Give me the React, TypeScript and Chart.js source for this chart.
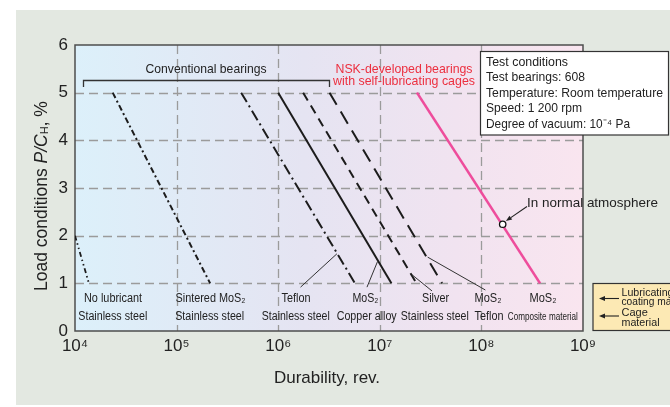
import React, { useEffect, useRef } from "react";
import { Chart, registerables } from "chart.js";

Chart.register(...registerables);

// ---- data ----
const loadTickValues = [0, 1, 2, 3, 4, 5, 6];
const durabilityTickExponents = [4, 5, 6, 7, 8, 9];
const durabilityTickLabels = ["10⁴", "10⁵", "10⁶", "10⁷", "10⁸", "10⁹"];

// durability (rev.) read at the start/end load of each test line
const noLubricantDurability = [1.0e4, 1.37e4];
const noLubricantLoad = [2, 1];
const sinteredMoS2Durability = [2.35e4, 2.14e5];
const teflonStainlessDurability = [4.32e5, 5.7e6];
const mos2CopperDurability = [1.0e6, 1.3e7];
const silverStainlessDurability = [1.76e6, 2.3e7];
const mos2TeflonDurability = [3.2e6, 4.1e7];
const nskCompositeDurability = [2.32e7, 3.78e8];
const standardLoad = [5, 1];
const normalAtmosphereDurability = [1.62e8];
const normalAtmosphereLoad = [2.24];

const FONT = '"Liberation Sans", Arial, Helvetica, sans-serif';
const INK = "#222222";
const RED = "#ec2f3f";

type Ctx = CanvasRenderingContext2D;

function fitText(ctx: Ctx, s: string, x: number, y: number, size: number, color: string, align: CanvasTextAlign, maxW?: number, style = "") {
  ctx.font = `${style}${size}px ${FONT}`;
  ctx.fillStyle = color;
  ctx.textAlign = align;
  ctx.textBaseline = "middle";
  if (maxW) ctx.fillText(s, x, y, maxW);
  else ctx.fillText(s, x, y);
}

function seg(ctx: Ctx, x1: number, y1: number, x2: number, y2: number) {
  ctx.beginPath();
  ctx.moveTo(x1, y1);
  ctx.lineTo(x2, y2);
  ctx.stroke();
}

function arrow(ctx: Ctx, x1: number, y1: number, x2: number, y2: number, color: string) {
  ctx.save();
  ctx.strokeStyle = color;
  ctx.fillStyle = color;
  ctx.lineWidth = 1.1;
  ctx.setLineDash([]);
  const ang = Math.atan2(y2 - y1, x2 - x1);
  const hl = 6, hw = 2.4;
  const bx = x2 - hl * Math.cos(ang), by = y2 - hl * Math.sin(ang);
  seg(ctx, x1, y1, bx, by);
  ctx.beginPath();
  ctx.moveTo(x2, y2);
  ctx.lineTo(bx + hw * Math.sin(ang), by - hw * Math.cos(ang));
  ctx.lineTo(bx - hw * Math.sin(ang), by + hw * Math.cos(ang));
  ctx.closePath();
  ctx.fill();
  ctx.restore();
}

const decorPlugin = {
  id: "decor",
  beforeDraw(chart: any) {
    const { ctx, chartArea: a, scales } = chart;
    ctx.save();
    ctx.fillStyle = "#ffffff";
    ctx.fillRect(0, 0, chart.width, chart.height);
    ctx.fillStyle = "#e3e8e1";
    ctx.fillRect(16, 10, chart.width - 16, 395);
    const g = ctx.createLinearGradient(a.left, 0, a.right, 0);
    g.addColorStop(0, "#dcf0fa");
    g.addColorStop(0.45, "#e5e4f2");
    g.addColorStop(0.75, "#f1e3f0");
    g.addColorStop(1, "#f9e5ef");
    ctx.fillStyle = g;
    ctx.fillRect(a.left, a.top, a.right - a.left, a.bottom - a.top);
    // dashed grid
    ctx.strokeStyle = "#9b9b9b";
    ctx.lineWidth = 1.3;
    ctx.setLineDash([9, 5]);
    loadTickValues.slice(1, -1).forEach((v) => {
      const y = Math.round(scales.y.getPixelForValue(v)) + 0.5;
      seg(ctx, a.left, y, a.right, y);
    });
    durabilityTickExponents.slice(1, -1).forEach((e) => {
      const x = Math.round(scales.x.getPixelForValue(10 ** e)) + 0.5;
      seg(ctx, x, a.top, x, a.bottom);
    });
    ctx.restore();
  },
  beforeDatasetsDraw(chart: any) {
    const { ctx, chartArea: a } = chart;
    ctx.save();
    ctx.strokeStyle = "#4d4d4d";
    ctx.lineWidth = 1.5;
    ctx.strokeRect(a.left, a.top, a.right - a.left, a.bottom - a.top);
    ctx.restore();
  },
  afterDraw(chart: any) {
    const { ctx, scales } = chart;
    const px = (lx: number) => scales.x.getPixelForValue(10 ** lx);
    const py = (v: number) => scales.y.getPixelForValue(v);
    ctx.save();

    // Conventional bearings bracket
    fitText(ctx, "Conventional bearings", 206, 69, 13.5, INK, "center", 121);
    ctx.strokeStyle = "#333";
    ctx.lineWidth = 1.3;
    ctx.beginPath();
    ctx.moveTo(83.5, 87);
    ctx.lineTo(83.5, 80.5);
    ctx.lineTo(329.5, 80.5);
    ctx.lineTo(329.5, 87);
    ctx.stroke();

    // NSK label
    fitText(ctx, "NSK-developed bearings", 404, 69, 13.5, RED, "center", 137);
    fitText(ctx, "with self-lubricating cages", 404, 81.5, 13.5, RED, "center", 142);

    // Test conditions box
    ctx.fillStyle = "#ffffff";
    ctx.fillRect(480.5, 51.5, 188, 83.5);
    ctx.strokeStyle = "#333";
    ctx.lineWidth = 1.2;
    ctx.strokeRect(480.5, 51.5, 188, 83.5);
    const box: [string, number][] = [
      ["Test conditions", 82],
      ["Test bearings: 608", 99],
      ["Temperature: Room temperature", 177],
      ["Speed: 1 200 rpm", 96],
      ["Degree of vacuum: 10⁻⁴ Pa", 144],
    ];
    box.forEach(([s, w], i) => fitText(ctx, s, 486, 61.8 + i * 15.65, 13.5, INK, "left", w));

    // In normal atmosphere
    fitText(ctx, "In normal atmosphere", 527, 203.5, 13.5, INK, "left", 131);
    const cx = px(Math.log10(normalAtmosphereDurability[0]));
    const cy = py(normalAtmosphereLoad[0]);
    arrow(ctx, 527, 206.5, cx + 3.2, cy - 3.2, "#222");

    // leader lines
    ctx.strokeStyle = "#333";
    ctx.lineWidth = 1;
    ctx.setLineDash([]);
    const leaders: [number, number, number, number][] = [
      [6.578, 1.62, 6.22, 0.92],
      [6.978, 1.46, 6.874, 0.92],
      [7.317, 1.18, 7.514, 0.84],
      [7.471, 1.55, 8.039, 0.86],
    ];
    leaders.forEach(([a, b, c, d]) => seg(ctx, px(a), py(b), px(c), py(d)));

    // bottom labels
    const row1: [string, number, number][] = [
      ["No lubricant", 113, 58],
      ["Sintered MoS₂", 210.5, 70],
      ["Teflon", 296, 29],
      ["MoS₂", 365.5, 26],
      ["Silver", 435.5, 27],
      ["MoS₂", 488, 27],
      ["MoS₂", 543, 27],
    ];
    const row2: [string, number, number][] = [
      ["Stainless steel", 112.8, 69],
      ["Stainless steel", 209.7, 69],
      ["Stainless steel", 295.8, 68],
      ["Copper alloy", 366.7, 60],
      ["Stainless steel", 434.8, 68],
      ["Teflon", 489, 29],
      ["Composite material", 542.8, 70],
    ];
    row1.forEach(([s, x, w]) => fitText(ctx, s, x, 298.3, 12.5, INK, "center", w));
    row2.forEach(([s, x, w], i) =>
      fitText(ctx, s, x, 316.5, i === 6 ? 11 : 12.5, INK, "center", w)
    );

    // legend box (bottom right)
    ctx.fillStyle = "#fce9b4";
    ctx.fillRect(593, 283.5, 80, 47);
    ctx.strokeStyle = "#333";
    ctx.lineWidth = 1.2;
    ctx.strokeRect(593, 283.5, 80, 47);
    arrow(ctx, 619, 298.5, 599, 298.5, "#222");
    arrow(ctx, 619, 316, 599, 316, "#222");
    fitText(ctx, "Lubricating", 621.5, 292.5, 11, INK, "left", 52);
    fitText(ctx, "coating material", 621.5, 302.3, 11, INK, "left", 72);
    fitText(ctx, "Cage", 621.5, 312.8, 11, INK, "left");
    fitText(ctx, "material", 621.5, 322.5, 11, INK, "left", 38);

    // axis titles
    fitText(ctx, "Durability, rev.", 327, 378, 17, INK, "center", 108);

    ctx.translate(42.5, 196);
    ctx.rotate(-Math.PI / 2);
    const parts: [string, string, number, number][] = [
      ["Load conditions ", "", 17.5, 0],
      ["P/C", "italic ", 17.5, 0],
      ["H", "", 11, 2.5],
      [", %", "", 17.5, 0],
    ];
    let total = 0;
    parts.forEach(([s, st, sz]) => {
      ctx.font = `${st}${sz}px ${FONT}`;
      total += ctx.measureText(s).width;
    });
    const scale = Math.min(1, 192 / total);
    ctx.scale(scale, 1);
    let x = -total / 2;
    parts.forEach(([s, st, sz, dy]) => {
      ctx.font = `${st}${sz}px ${FONT}`;
      ctx.fillStyle = INK;
      ctx.textAlign = "left";
      ctx.textBaseline = "middle";
      ctx.fillText(s, x, dy);
      x += ctx.measureText(s).width;
    });
    ctx.restore();
  },
};

function lineSet(xs: number[], ys: number[], color: string, width: number, dash: number[]) {
  return {
    type: "line" as const,
    data: xs.map((x, i) => ({ x, y: ys[i] })),
    borderColor: color,
    borderWidth: width,
    borderDash: dash,
    borderCapStyle: "butt" as const,
    pointRadius: 0,
    fill: false,
    tension: 0,
  };
}

export default function App() {
  const ref = useRef<HTMLCanvasElement | null>(null);
  useEffect(() => {
    if (!ref.current) return;
    const black = "#1c1c1c";
    const chart = new Chart(ref.current, {
      type: "line",
      data: {
        datasets: [
          {
            type: "scatter",
            data: normalAtmosphereDurability.map((x, i) => ({ x, y: normalAtmosphereLoad[i] })),
            pointRadius: 3.2,
            pointBackgroundColor: "#ffffff",
            pointBorderColor: "#111111",
            pointBorderWidth: 1.3,
            showLine: false,
            order: -1,
          } as any,
          lineSet(noLubricantDurability, noLubricantLoad, black, 1.8, [5, 3, 1.5, 3, 1.5, 3]),
          lineSet(sinteredMoS2Durability, standardLoad, black, 2, [6, 3, 2, 3]),
          lineSet(teflonStainlessDurability, standardLoad, black, 2, [11, 4, 2, 4]),
          lineSet(mos2CopperDurability, standardLoad, black, 2, []),
          lineSet(silverStainlessDurability, standardLoad, black, 2, [9, 6]),
          lineSet(mos2TeflonDurability, standardLoad, black, 2, [14, 8]),
          lineSet(nskCompositeDurability, standardLoad, "#ee4d9c", 2.6, []),
        ] as any,
      },
      options: {
        animation: false,
        responsive: false,
        devicePixelRatio: 1,
        layout: { padding: { left: 0, right: 87, top: 45, bottom: 0 } },
        plugins: { legend: { display: false }, tooltip: { enabled: false } },
        scales: {
          x: {
            type: "logarithmic",
            min: 1e4,
            max: 1e9,
            afterBuildTicks: (s: any) => {
              s.ticks = durabilityTickExponents.map((e) => ({ value: 10 ** e }));
            },
            afterFit: (s: any) => {
              s.height = 76;
            },
            ticks: {
              callback: (_v: any, i: number) => durabilityTickLabels[i],
              font: { family: FONT, size: 17 },
              color: INK,
              padding: 5,
              maxRotation: 0,
              autoSkip: false,
            },
            grid: { display: false, drawTicks: false },
            border: { display: false },
          },
          y: {
            type: "linear",
            min: loadTickValues[0],
            max: loadTickValues[loadTickValues.length - 1],
            afterFit: (s: any) => {
              s.width = 75;
            },
            ticks: {
              stepSize: 1,
              font: { family: FONT, size: 17 },
              color: INK,
              padding: 7,
            },
            grid: { display: false, drawTicks: false },
            border: { display: false },
          },
        },
      } as any,
      plugins: [decorPlugin],
    });
    return () => chart.destroy();
  }, []);
  return (
    <div style={{ position: "absolute", left: 0, top: 0, width: 670, height: 407 }}>
      <canvas ref={ref} width={670} height={407} />
    </div>
  );
}
